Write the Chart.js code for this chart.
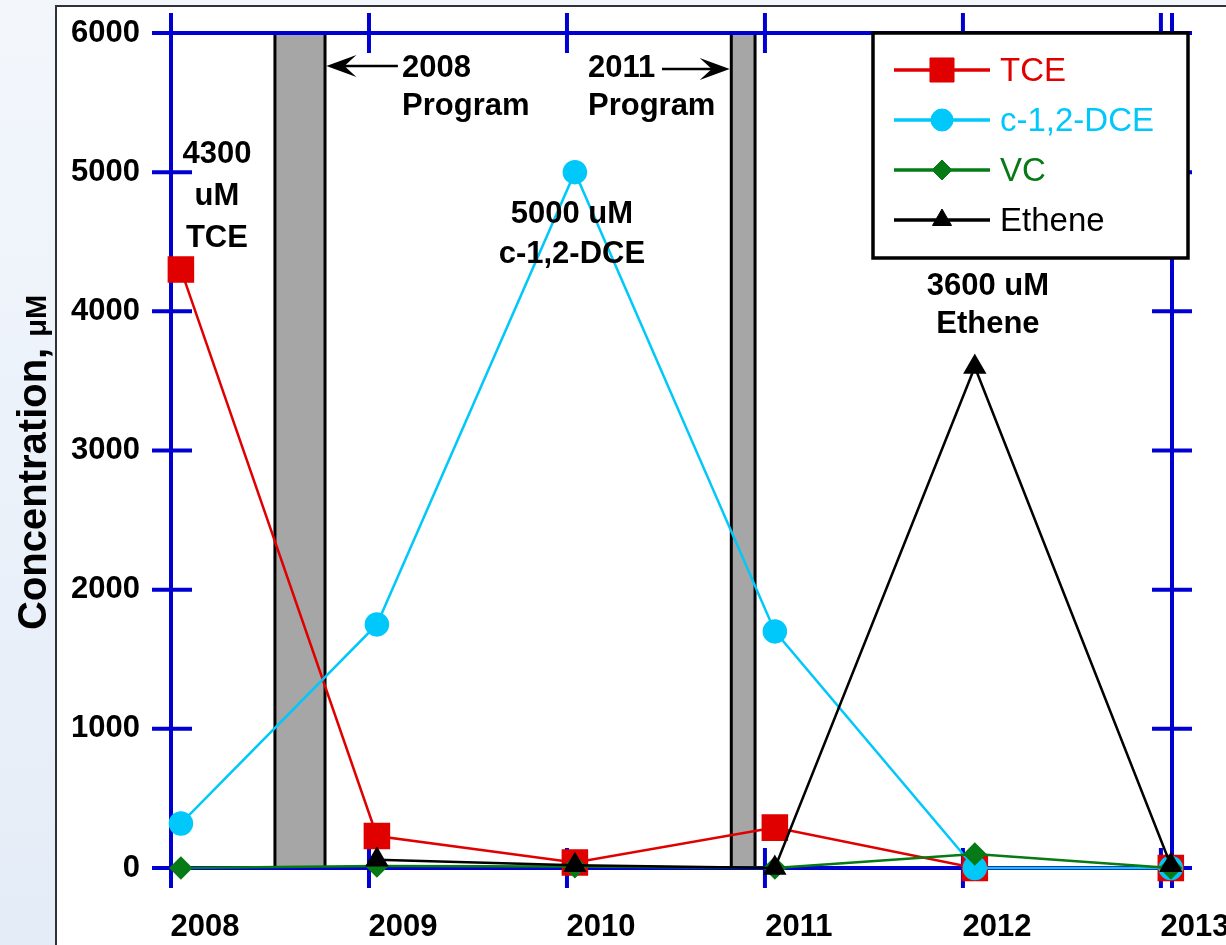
<!DOCTYPE html>
<html>
<head>
<meta charset="utf-8">
<title>Concentration, μM</title>
<script src="https://cdn.jsdelivr.net/npm/chart.js@4/dist/chart.umd.min.js"></script>
<style>
  html, body { margin: 0; padding: 0; }
  body {
    width: 1226px; height: 945px; overflow: hidden; position: relative;
    background: linear-gradient(180deg, #f3f7fc 0%, #e4ecf7 100%);
  }
  #panel {
    position: absolute; left: 55px; top: 5px; right: 0; bottom: 0;
    background: #ffffff;
    border-left: 2px solid #2f3338; border-top: 2px solid #2f3338;
  }
  #wrap { position: absolute; left: 0; top: 0; width: 1226px; height: 945px; }
</style>
</head>
<body>
<div id="panel"></div>
<div id="wrap"><canvas id="chart" width="1226" height="945"></canvas></div>
<script>
// Sampling dates (decimal years) and measured concentrations (uM)
const sampleYears = [2008.05, 2009.04, 2010.04, 2011.05, 2012.06, 2013.05];
const tce    = [4300, 230, 40, 290, 0, 0];
const dce    = [320, 1750, 5000, 1700, 0, 0];
const vc     = [0, 15, 10, 0, 100, 0];
const ethene = [null, 60, 20, 0, 3600, 20];

// Axis ticks
const yearTicks = [2008, 2009, 2010, 2011, 2012, 2013];
const concTicks = [0, 1000, 2000, 3000, 4000, 5000, 6000];

// Treatment program windows (start, end) in decimal years
const programWindows = [[2008.525, 2008.778], [2010.83, 2010.95]];

const FONT = "'Liberation Sans', Arial, Helvetica, sans-serif";
Chart.defaults.font.family = FONT;

const toPoints = vals => vals.map((v, i) => ({ x: sampleYears[i], y: v }));

const BLUE = '#0000d2';

// Text callouts placed in data coordinates
const notes = [
  { lines: [String(Math.max(...tce)), 'uM', 'TCE'], x: 2008.232, y: 5066, align: 'center', step: 42 },
  { lines: ['2008', 'Program'], x: 2009.167, y: 5683, align: 'left', step: 38 },
  { lines: ['2011', 'Program'], x: 2010.106, y: 5683, align: 'left', step: 38 },
  { lines: [Math.max(...dce) + ' uM', 'c-1,2-DCE'], x: 2010.025, y: 4635, align: 'center', step: 40 },
  { lines: [Math.max(...ethene) + ' uM', 'Ethene'], x: 2012.126, y: 4117, align: 'center', step: 38 }
];
const arrows = [
  { from: [2009.146, 5763], to: [2008.785, 5763] },
  { from: [2010.48, 5742], to: [2010.822, 5742] }
];

function drawMarker(ctx, ds, px, py) {
  const opts = { pointStyle: ds.pointStyle, radius: ds.pointRadius, borderWidth: 1, rotation: 0 };
  ctx.save();
  ctx.fillStyle = ds.backgroundColor;
  ctx.strokeStyle = ds.borderColor;
  ctx.lineWidth = 1;
  if (Chart.helpers && Chart.helpers.drawPoint) {
    Chart.helpers.drawPoint(ctx, opts, px, py);
  } else {
    ctx.beginPath();
    ctx.arc(px, py, ds.pointRadius, 0, Math.PI * 2);
    ctx.fill();
  }
  ctx.restore();
}

const framePlugin = {
  id: 'frame',
  beforeDatasetsDraw(chart) {
    const { ctx, scales: { x, y } } = chart;
    const top = y.getPixelForValue(concTicks[concTicks.length - 1]);
    const bottom = y.getPixelForValue(0);
    const left = x.getPixelForValue(x.min);
    const right = x.getPixelForValue(x.max);
    ctx.save();

    // program windows
    programWindows.forEach(([a, b]) => {
      const l = x.getPixelForValue(a), r = x.getPixelForValue(b);
      ctx.fillStyle = '#a6a6a6';
      ctx.fillRect(l, top, r - l, bottom - top);
      ctx.strokeStyle = '#000';
      ctx.lineWidth = 3;
      ctx.strokeRect(l, top, r - l, bottom - top);
    });

    // axis frame with crossing ticks
    ctx.strokeStyle = BLUE;
    ctx.lineWidth = 4;
    ctx.lineCap = 'butt';
    ctx.beginPath();
    [top, bottom].forEach(py => { ctx.moveTo(left - 19, py); ctx.lineTo(right + 18, py); });
    [left, right].forEach(px => { ctx.moveTo(px, top - 20); ctx.lineTo(px, bottom + 20); });
    yearTicks.forEach(v => {
      const px = x.getPixelForValue(v);
      ctx.moveTo(px, top - 20); ctx.lineTo(px, top + 20);
      ctx.moveTo(px, bottom - 20); ctx.lineTo(px, bottom + 20);
    });
    concTicks.forEach(v => {
      const py = y.getPixelForValue(v);
      ctx.moveTo(left - 19, py); ctx.lineTo(left + 21, py);
      ctx.moveTo(right - 20, py); ctx.lineTo(right + 20, py);
    });
    ctx.stroke();
    ctx.restore();
  },
  afterDatasetsDraw(chart) {
    const { ctx, scales: { x, y } } = chart;
    ctx.save();

    // callouts
    ctx.fillStyle = '#000';
    ctx.font = 'bold 31px ' + FONT;
    ctx.textBaseline = 'alphabetic';
    notes.forEach(n => {
      ctx.textAlign = n.align;
      const px = x.getPixelForValue(n.x);
      const py = y.getPixelForValue(n.y);
      n.lines.forEach((t, i) => ctx.fillText(t, px, py + i * n.step));
    });

    // arrows
    ctx.strokeStyle = '#000';
    ctx.fillStyle = '#000';
    ctx.lineWidth = 2.5;
    arrows.forEach(a => {
      const x0 = x.getPixelForValue(a.from[0]), y0 = y.getPixelForValue(a.from[1]);
      const x1 = x.getPixelForValue(a.to[0]), y1 = y.getPixelForValue(a.to[1]);
      const dir = Math.sign(x1 - x0);
      ctx.beginPath();
      ctx.moveTo(x0, y0); ctx.lineTo(x1 - dir * 8, y1);
      ctx.stroke();
      ctx.beginPath();
      ctx.moveTo(x1, y1);
      ctx.lineTo(x1 - dir * 30, y1 - 11);
      ctx.lineTo(x1 - dir * 18, y1);
      ctx.lineTo(x1 - dir * 30, y1 + 11);
      ctx.closePath();
      ctx.fill();
    });

    // y-axis title
    ctx.save();
    ctx.translate(46, 630);
    ctx.rotate(-Math.PI / 2);
    ctx.textAlign = 'left';
    ctx.font = 'bold 40px ' + FONT;
    const head = 'Concentration, ';
    ctx.fillText(head, 0, 0);
    const w = ctx.measureText(head).width;
    ctx.font = 'bold 29px ' + FONT;
    ctx.fillText('μM', w, 0);
    ctx.restore();

    // legend box
    const box = { l: 873, t: 33, r: 1188, b: 258 };
    ctx.fillStyle = '#fff';
    ctx.fillRect(box.l, box.t, box.r - box.l, box.b - box.t);
    ctx.strokeStyle = '#000';
    ctx.lineWidth = 3.5;
    ctx.strokeRect(box.l, box.t, box.r - box.l, box.b - box.t);
    ctx.font = '33px ' + FONT;
    ctx.textAlign = 'left';
    ctx.textBaseline = 'middle';
    chart.data.datasets.forEach((ds, i) => {
      const cy = 70 + i * 50;
      ctx.strokeStyle = ds.borderColor;
      ctx.lineWidth = 3.5;
      ctx.beginPath();
      ctx.moveTo(894, cy); ctx.lineTo(990, cy);
      ctx.stroke();
      drawMarker(ctx, ds, 942, cy);
      ctx.fillStyle = ds.borderColor;
      ctx.fillText(ds.label, 1000, cy + 2);
    });
    ctx.restore();
  }
};

const tickFont = { family: FONT, size: 31, weight: 'bold' };

// Keep the plot frame fixed: no extra room reserved for edge tick labels
function zeroPadding(s) {
  s.paddingTop = 0; s.paddingBottom = 0; s.paddingLeft = 0; s.paddingRight = 0;
}

new Chart(document.getElementById('chart'), {
  type: 'line',
  data: {
    datasets: [
      { label: 'TCE', data: toPoints(tce), borderColor: '#e00000', backgroundColor: '#e00000',
        pointStyle: 'rect', pointRadius: 17, borderWidth: 2.5, order: 4 },
      { label: 'c-1,2-DCE', data: toPoints(dce), borderColor: '#00c8fa', backgroundColor: '#00c8fa',
        pointStyle: 'circle', pointRadius: 11, borderWidth: 2.5, order: 3 },
      { label: 'VC', data: toPoints(vc), borderColor: '#067a14', backgroundColor: '#067a14',
        pointStyle: 'rectRot', pointRadius: 10, borderWidth: 2.5, order: 2 },
      { label: 'Ethene', data: toPoints(ethene), borderColor: '#000000', backgroundColor: '#000000',
        pointStyle: 'triangle', pointRadius: 11, borderWidth: 2.5, order: 1 }
    ]
  },
  options: {
    responsive: false,
    animation: false,
    devicePixelRatio: 1,
    events: [],
    layout: { padding: { top: 33, right: 54, left: 0, bottom: 0 } },
    elements: {
      line: { tension: 0, fill: false },
      point: { borderWidth: 1, hoverRadius: 0 }
    },
    datasets: { line: { clip: false, spanGaps: false } },
    plugins: { legend: { display: false }, tooltip: { enabled: false }, title: { display: false } },
    scales: {
      x: {
        type: 'linear', min: 2008, max: 2013.056,
        afterBuildTicks: s => { s.ticks = yearTicks.map(v => ({ value: v })); },
        afterFit: s => { s.height = 77; zeroPadding(s); },
        grid: { display: false, drawTicks: false },
        border: { display: false },
        ticks: { font: tickFont, color: '#000', padding: 41, labelOffset: 34,
                 maxRotation: 0, autoSkip: false, callback: v => String(v) }
      },
      y: {
        type: 'linear', min: 0, max: 6000,
        afterBuildTicks: s => { s.ticks = concTicks.map(v => ({ value: v })); },
        afterFit: s => { s.width = 171; zeroPadding(s); },
        grid: { display: false, drawTicks: false },
        border: { display: false },
        ticks: { font: tickFont, color: '#000', padding: 31, callback: v => String(v) }
      }
    }
  },
  plugins: [framePlugin]
});
</script>
</body>
</html>
